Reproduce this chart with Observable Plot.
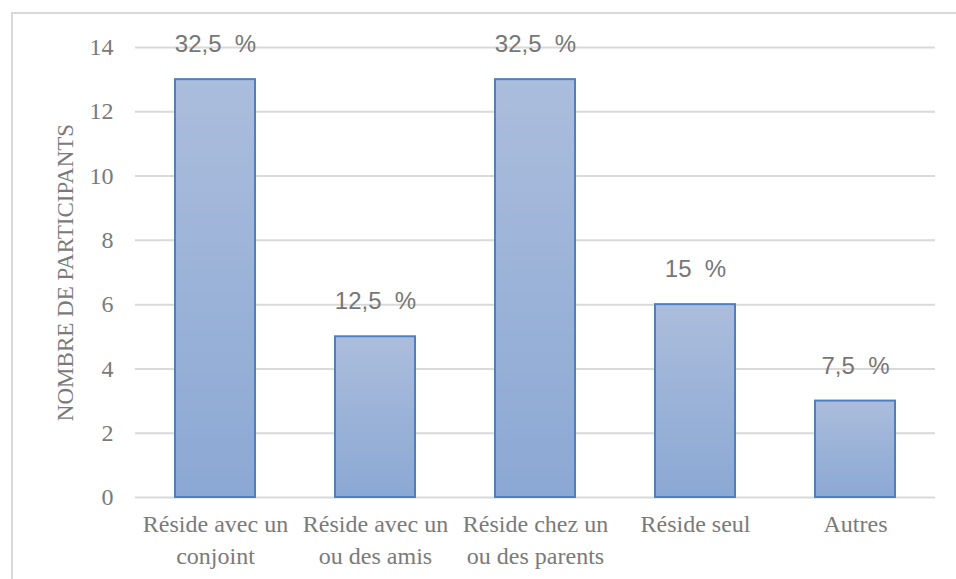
<!DOCTYPE html>
<html><head><meta charset="utf-8">
<script src="https://cdn.jsdelivr.net/npm/d3@7"></script>
<script src="https://cdn.jsdelivr.net/npm/@observablehq/plot@0.6"></script>
<style>
html,body{margin:0;padding:0;background:#fff;}
#wrap{position:relative;width:956px;height:579px;overflow:hidden;}
#frame{position:absolute;left:11px;top:12px;width:1000px;height:1000px;border:2px solid #d9d9d9;box-sizing:border-box;pointer-events:none;}
</style></head>
<body><div id="wrap"><div id="frame"></div></div>
<script>
const categories = ["Réside avec un\nconjoint","Réside avec un\nou des amis","Réside chez un\nou des parents","Réside seul","Autres"];
const counts = [13, 5, 13, 6, 3];
const percentLabels = ["32,5  %","12,5  %","32,5  %","15  %","7,5  %"];
const yTicks = [0,2,4,6,8,10,12,14];
const yTitle = "NOMBRE DE PARTICIPANTS";

const data = categories.map((c,i)=>({cat:c, n:counts[i], pct:percentLabels[i]}));
const serif = "'Liberation Serif', 'Times New Roman', serif";
const sans = "'Liberation Sans', Arial, sans-serif";
const labelColor = "#7a7a7a";

const chart = Plot.plot({
  width: 956, height: 579,
  marginLeft: 135, marginRight: 21, marginTop: 47, marginBottom: 82,
  style: {background:"transparent"},
  x: {domain: categories, paddingInner: 0.5, paddingOuter: 0.25, axis: null},
  y: {domain: [0,14], axis: null},
  marks: [
    () => {
      const ns = "http://www.w3.org/2000/svg";
      const defs = document.createElementNS(ns,"defs");
      defs.innerHTML = `<linearGradient id="barGrad" x1="0" y1="0" x2="0" y2="1"><stop offset="0" stop-color="#abbddc"/><stop offset="1" stop-color="#8ba8d4"/></linearGradient>`;
      return defs;
    },
    Plot.gridY(yTicks, {stroke:"#d9d9d9", strokeOpacity:1, strokeWidth:2}),
    Plot.barY(data, {x:"cat", y:"n", fill:"url(#barGrad)", stroke:"#4f7fbf", strokeWidth:2}),
    Plot.text(data, {x:"cat", y:"n", text:"pct", dy:-35, fill:"#767676", fontSize:24, fontFamily:sans}),
    Plot.text(yTicks, {y: d=>d, text: d=>String(d), frameAnchor:"left", textAnchor:"end", dx:-22, fontSize:24, fill:labelColor, fontFamily:serif}),
    Plot.text(categories, {x: d=>d, text: d=>d, frameAnchor:"bottom", lineAnchor:"top", dy:12, lineHeight:1.33, fontSize:24, fill:labelColor, fontFamily:serif}),
    Plot.text([yTitle], {frameAnchor:"left", textAnchor:"middle", dx:-70, rotate:-90, fontSize:23, fill:labelColor, fontFamily:serif, text:d=>d})
  ]
});
document.getElementById("wrap").prepend(chart);
chart.style.position="absolute"; chart.style.left="0"; chart.style.top="0";
</script></body></html>
